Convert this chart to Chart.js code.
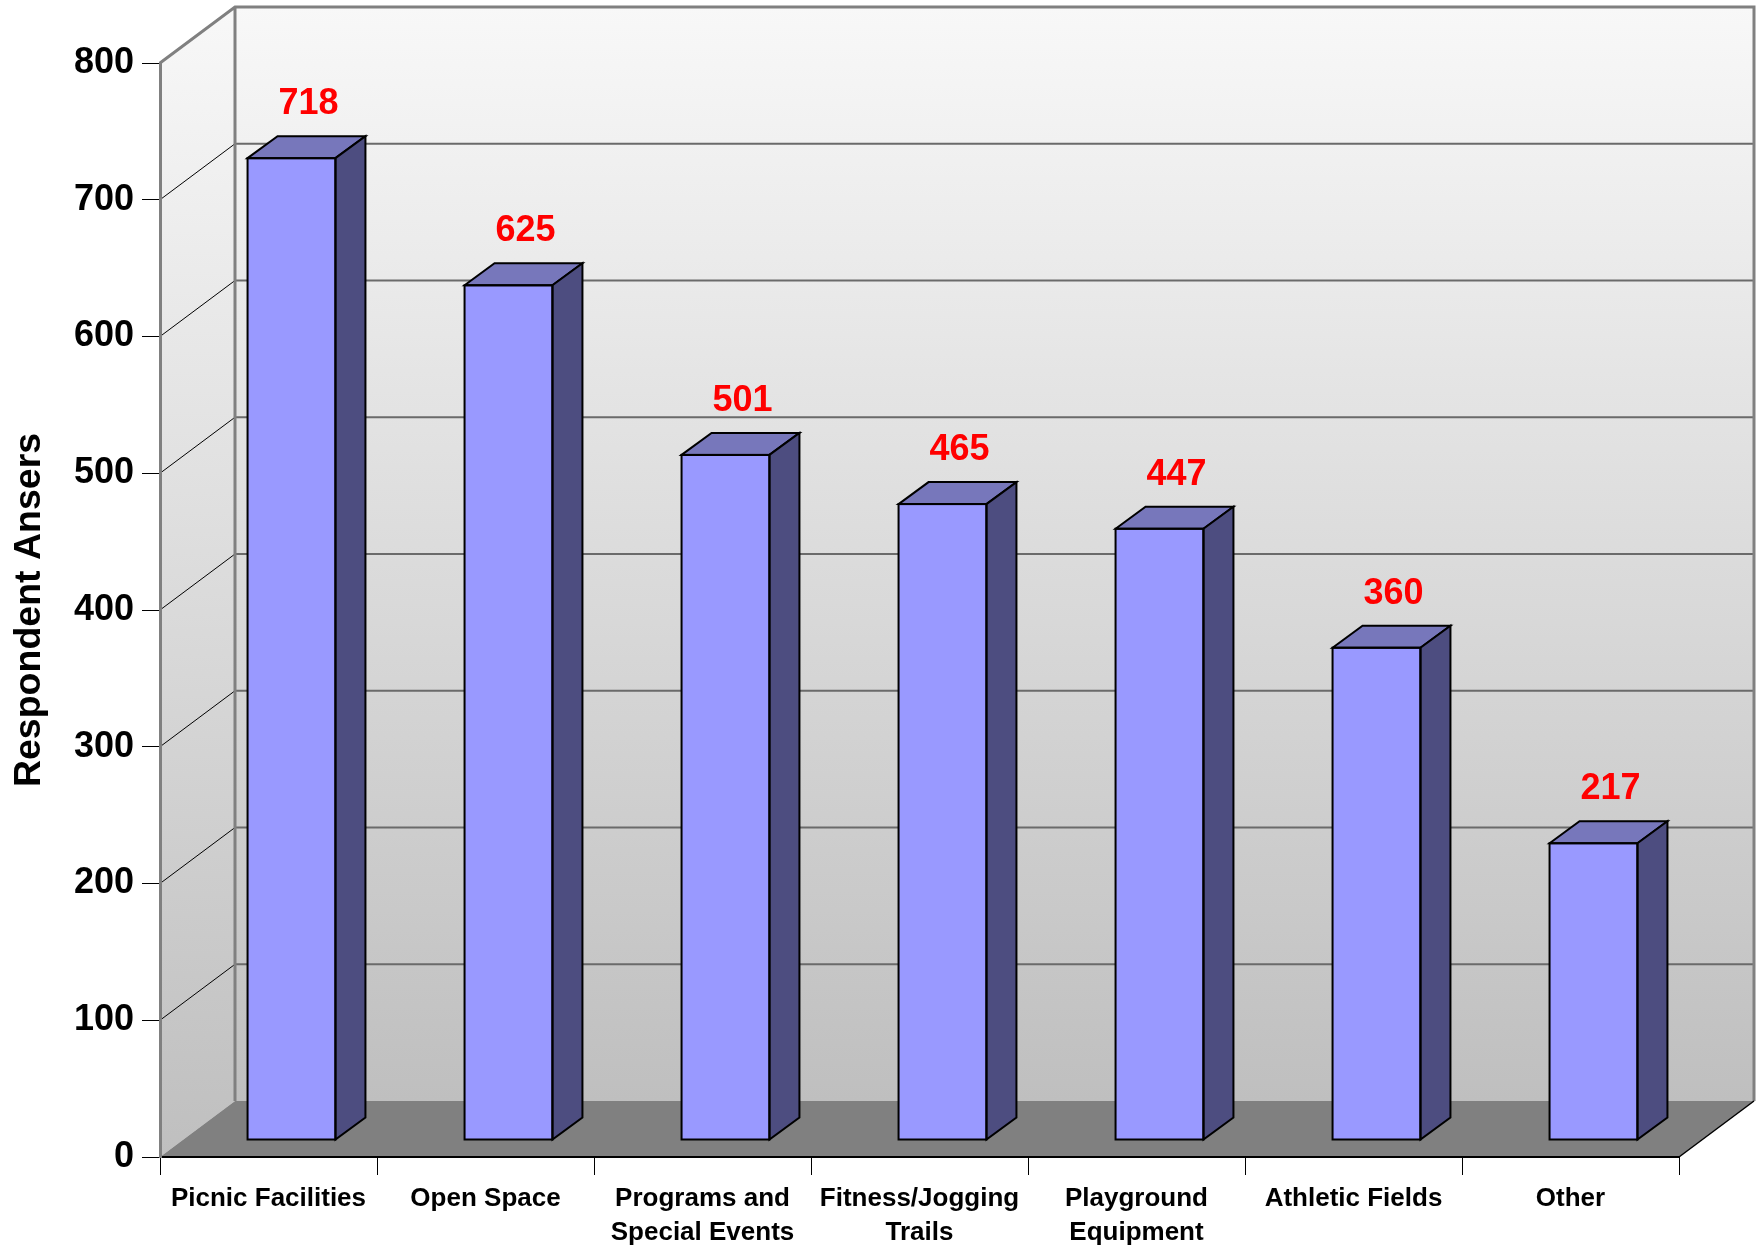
<!DOCTYPE html>
<html><head><meta charset="utf-8">
<script src="https://cdn.jsdelivr.net/npm/chart.js@4.4.0/dist/chart.umd.min.js"></script>
<style>html,body{margin:0;padding:0;background:#fff;} canvas{display:block;}</style>
</head><body>
<canvas id="c" width="1761" height="1248"></canvas>
<script>
// ---- data ----
const categories = ['Picnic Facilities', 'Open Space', ['Programs and', 'Special Events'], ['Fitness/Jogging', 'Trails'], ['Playground', 'Equipment'], 'Athletic Fields', 'Other'];
const values = [718, 625, 501, 465, 447, 360, 217];
const yTicks = [0, 100, 200, 300, 400, 500, 600, 700, 800];
const yTitle = 'Respondent Ansers';

// ---- style constants ----
const FONT = "'Liberation Sans', Arial, sans-serif";
const WALL_DX = 75, WALL_DY = 56;   // depth of the 3D box
const BAR_SX = 23, BAR_SY = 17;     // bar row shift into depth
const BAR_DX = 30, BAR_DY = 22;     // bar depth

const wallsPlugin = {
  id: 'walls',
  beforeDraw(chart) {
    const {ctx, chartArea: {left, top, right, bottom}, scales: {y}} = chart;
    ctx.save();
    const grad = (y0, y1) => {
      const g = ctx.createLinearGradient(0, y0, 0, y1);
      g.addColorStop(0, '#f8f8f8');
      g.addColorStop(1, '#bfbfbf');
      return g;
    };
    // back wall
    ctx.fillStyle = grad(top - WALL_DY, bottom - WALL_DY);
    ctx.fillRect(left + WALL_DX, top - WALL_DY, right - left, bottom - top);
    // left wall
    ctx.fillStyle = grad(top - WALL_DY, bottom);
    ctx.beginPath();
    ctx.moveTo(left, top); ctx.lineTo(left + WALL_DX, top - WALL_DY);
    ctx.lineTo(left + WALL_DX, bottom - WALL_DY); ctx.lineTo(left, bottom);
    ctx.closePath(); ctx.fill();
    // floor
    ctx.fillStyle = '#808080';
    ctx.beginPath();
    ctx.moveTo(left, bottom); ctx.lineTo(left + WALL_DX, bottom - WALL_DY);
    ctx.lineTo(right + WALL_DX, bottom - WALL_DY); ctx.lineTo(right, bottom);
    ctx.closePath(); ctx.fill();
    // gridlines
    const maxV = yTicks[yTicks.length - 1];
    yTicks.forEach(v => {
      if (v <= 0 || v >= maxV) return;
      const py = y.getPixelForValue(v);
      ctx.strokeStyle = '#6a6a6a'; ctx.lineWidth = 2;
      ctx.beginPath(); ctx.moveTo(left + WALL_DX, py - WALL_DY); ctx.lineTo(right + WALL_DX, py - WALL_DY); ctx.stroke();
      ctx.strokeStyle = '#000'; ctx.lineWidth = 1;
      ctx.beginPath(); ctx.moveTo(left, py); ctx.lineTo(left + WALL_DX, py - WALL_DY); ctx.stroke();
    });
    // borders
    ctx.strokeStyle = '#808080'; ctx.lineWidth = 3;
    ctx.beginPath();
    ctx.moveTo(left, top); ctx.lineTo(left + WALL_DX, top - WALL_DY);
    ctx.lineTo(right + WALL_DX, top - WALL_DY); ctx.lineTo(right + WALL_DX, bottom - WALL_DY);
    ctx.moveTo(left + WALL_DX, top - WALL_DY); ctx.lineTo(left + WALL_DX, bottom - WALL_DY);
    ctx.stroke();
    ctx.strokeStyle = '#000'; ctx.lineWidth = 1.5;
    ctx.beginPath(); ctx.moveTo(right, bottom); ctx.lineTo(right + WALL_DX, bottom - WALL_DY); ctx.stroke();
    ctx.restore();
  },
  beforeDatasetsDraw(chart) {
    chart.ctx.save();
    chart.ctx.translate(BAR_SX, -BAR_SY);
  },
  afterDatasetsDraw(chart) {
    const ctx = chart.ctx;
    const meta = chart.getDatasetMeta(0);
    ctx.lineWidth = 2; ctx.strokeStyle = '#000'; ctx.lineJoin = 'miter';
    meta.data.forEach((el, i) => {
      const {x, y, base, width} = el.getProps(['x', 'y', 'base', 'width'], true);
      const l = x - width / 2, r = x + width / 2;
      // top face
      ctx.fillStyle = '#7777bb';
      ctx.beginPath();
      ctx.moveTo(l, y); ctx.lineTo(l + BAR_DX, y - BAR_DY); ctx.lineTo(r + BAR_DX, y - BAR_DY); ctx.lineTo(r, y);
      ctx.closePath(); ctx.fill(); ctx.stroke();
      // side face
      ctx.fillStyle = '#4d4d80';
      ctx.beginPath();
      ctx.moveTo(r, y); ctx.lineTo(r + BAR_DX, y - BAR_DY); ctx.lineTo(r + BAR_DX, base - BAR_DY); ctx.lineTo(r, base);
      ctx.closePath(); ctx.fill(); ctx.stroke();
      // front outline
      ctx.strokeRect(l, y, width, base - y);
      // value label
      ctx.fillStyle = '#ff0000';
      ctx.font = 'bold 36px ' + FONT;
      ctx.textAlign = 'center'; ctx.textBaseline = 'alphabetic';
      ctx.fillText(String(values[i]), x + 17, y - 44);
    });
    ctx.restore();
  }
};

new Chart(document.getElementById('c'), {
  type: 'bar',
  data: {
    labels: categories,
    datasets: [{
      data: values,
      backgroundColor: '#9999ff',
      borderColor: '#000',
      borderWidth: 0,
      borderSkipped: false,
      categoryPercentage: 1,
      barPercentage: 0.405,
      clip: false
    }]
  },
  options: {
    responsive: false,
    devicePixelRatio: 1,
    animation: false,
    layout: {padding: {top: 63, right: 82, left: 0, bottom: 0}},
    plugins: {legend: {display: false}, tooltip: {enabled: false}},
    scales: {
      x: {
        offset: true,
        grid: {offset: true, drawOnChartArea: false, drawTicks: true, tickLength: 18, color: '#000', lineWidth: 1},
        border: {display: true, color: '#000', width: 2},
        ticks: {font: {family: FONT, weight: 'bold', size: 26, lineHeight: 1.3}, color: '#000', padding: 7, maxRotation: 0, autoSkip: false},
        afterFit(s) { s.height = 91; }
      },
      y: {
        min: 0, max: 800,
        afterBuildTicks(s) { s.ticks = yTicks.map(v => ({value: v})); },
        ticks: {font: {family: FONT, weight: 'bold', size: 36}, color: '#000', padding: 8, autoSkip: false},
        grid: {drawOnChartArea: false, drawTicks: true, tickLength: 18, color: '#000', lineWidth: 1},
        border: {display: true, color: '#808080', width: 3},
        title: {display: true, text: yTitle, color: '#000', font: {family: FONT, weight: 'bold', size: 37.5}, padding: {top: 7, bottom: 0}},
        afterFit(s) { s.width = 160; }
      }
    }
  },
  plugins: [wallsPlugin]
});
</script>
</body></html>
